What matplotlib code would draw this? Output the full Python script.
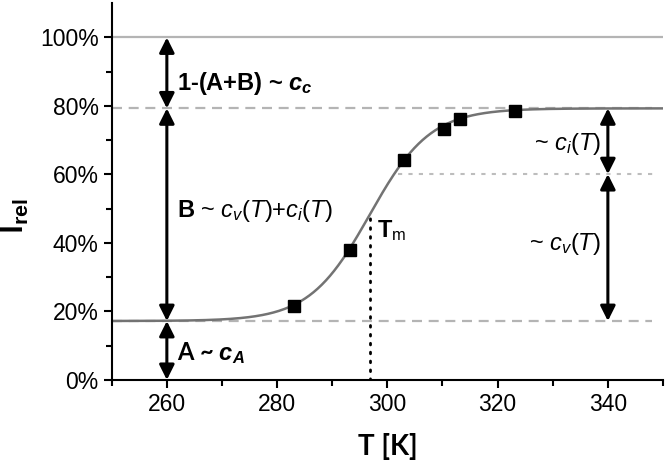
import numpy as np
import matplotlib
matplotlib.use("Agg")
import matplotlib.pyplot as plt

# measured points (T in K, relative intensity in %)
T_data = [283.0, 293.2, 303.1, 310.2, 313.2, 323.2]
I_data = [21.5, 38.0, 64.2, 73.2, 76.3, 78.5]

# sigmoid fit parameters
fit_A = 17.2        # lower plateau
fit_top = 79.3      # upper plateau
fit_Tm = 296.8      # midpoint
fit_w = 5.5         # width
level_ci = 60.1     # split between c_v and c_i at the right

x_ticks = [260, 280, 300, 320, 340]
y_ticks = [0, 20, 40, 60, 80, 100]
y_ticklabels = ["0%", "20%", "40%", "60%", "80%", "100%"]

FONT = "Liberation Sans"
plt.rcParams.update({
    "font.family": FONT,
    "mathtext.fontset": "custom",
    "mathtext.rm": FONT,
    "mathtext.it": FONT + ":italic",
    "mathtext.bf": FONT + ":bold",
    "mathtext.bfit": FONT + ":italic:bold",
})

fig = plt.figure(figsize=(6.67, 4.65), dpi=100)
ax = fig.add_axes([0.1675, 0.183, 0.8265, 0.81])

GRID = "#b4b4b4"
ax.axhline(100, color=GRID, lw=1.6, zorder=1)
ax.axhline(fit_top, color=GRID, lw=1.6, ls=(0, (4.5, 3)), xmax=0.98, zorder=1)
ax.axhline(fit_A, color=GRID, lw=1.6, ls=(0, (4.5, 3)), xmax=0.98, zorder=1)
ax.plot([302, 349], [level_ci, level_ci], color="#bdbdbd", lw=1.5,
        ls=(0, (2, 3)), zorder=1)

T_fit = np.linspace(250, 350, 400)
I_fit = fit_A + (fit_top - fit_A) / (1 + np.exp(-(T_fit - fit_Tm) / fit_w))
ax.plot(T_fit, I_fit, color="#737373", lw=1.8, zorder=2)
ax.plot(T_data, I_data, "s", color="black", ms=8, zorder=3)

# Tm marker
ax.plot([fit_Tm, fit_Tm], [0, 47.4], color="black", lw=2,
        ls=(0, (0.6, 2.6)), dash_capstyle="round", zorder=2)

arrow = dict(arrowstyle="<|-|>,head_length=0.9,head_width=0.45",
             color="black", lw=2.2, shrinkA=0, shrinkB=0)
for x0, lo, hi in [(260, fit_top, 100), (260, fit_A, fit_top), (260, 0, fit_A),
                   (340, level_ci, fit_top), (340, fit_A, level_ci)]:
    ax.annotate("", xy=(x0, lo), xytext=(x0, hi), arrowprops=arrow, zorder=4)

fs = 17
ax.text(261.9, 86.6, r"1-(A+B) ~ $\mathbfit{c}_{\mathbfit{c}}$", fontsize=fs,
        fontweight="bold", va="center", ha="left")
ax.text(261.9, 49.4, r"$\mathbf{B}$ ~ $\mathit{c_{v}(T)}$+$\mathit{c_{i}(T)}$",
        fontsize=fs, va="center", ha="left")
ax.text(261.9, 7.8, r"A ~ $\mathbfit{c}_{\mathbfit{A}}$", fontsize=fs,
        family="Lato", fontweight="bold", va="center", ha="left")
ax.text(338.8, 68.9, r"~ $\mathit{c_{i}(T)}$", fontsize=fs, va="center", ha="right")
ax.text(338.8, 39.8, r"~ $\mathit{c_{v}(T)}$", fontsize=fs, va="center", ha="right")
ax.text(298.2, 43.5, r"$\mathbf{T}_{\mathrm{m}}$", fontsize=fs, va="center", ha="left")

ax.set_xlim(250, 350)
ax.set_ylim(0, 110)
ax.set_xticks(x_ticks)
ax.set_xticks(np.arange(250, 351, 10), minor=True)
ax.set_yticks(y_ticks)
ax.set_yticklabels(y_ticklabels)
ax.set_yticks(np.arange(0, 101, 10), minor=True)
for s in ("top", "right"):
    ax.spines[s].set_visible(False)
for s in ("left", "bottom"):
    ax.spines[s].set_linewidth(1.5)
ax.tick_params(which="major", length=6, width=1.5, labelsize=16.5)
ax.tick_params(which="minor", length=4, width=1.5)

ax.set_xlabel("T [K]", fontsize=20, family="Lato", fontweight="bold", labelpad=12)
ax.set_ylabel(r"I$_{\mathbf{rel}}$", fontsize=22, family="Lato", fontweight="bold")
ax.yaxis.set_label_coords(-0.147, 0.435)

fig.savefig("out.png", dpi=100)
